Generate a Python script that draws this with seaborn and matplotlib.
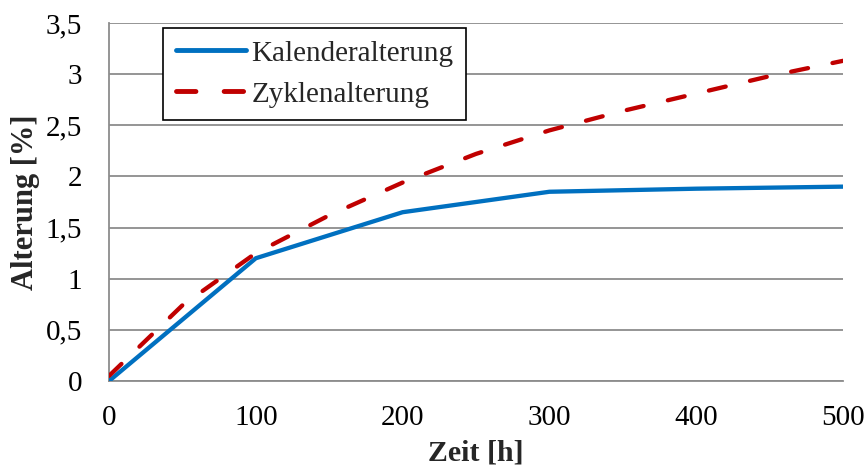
import matplotlib
matplotlib.use("Agg")
import matplotlib.pyplot as plt
import seaborn as sns
import pandas as pd

zeit = [0, 100, 200, 300, 400, 500]
kalender = [0.0, 1.20, 1.65, 1.85, 1.88, 1.90]

zeit_zyklen = [0, 50, 100, 150, 200, 250, 300, 350, 400, 450, 500]
zyklen = [0.05, 0.74, 1.25, 1.62, 1.94, 2.22, 2.45, 2.64, 2.81, 2.98, 3.13]

x_ticks = [0, 100, 200, 300, 400, 500]
y_ticks = [0, 0.5, 1, 1.5, 2, 2.5, 3, 3.5]
y_tick_labels = ["0", "0,5", "1", "1,5", "2", "2,5", "3", "3,5"]

sns.set_theme(style="white")
plt.rcParams["font.family"] = ["Liberation Serif", "DejaVu Serif"]

df = pd.concat([
    pd.DataFrame({"Zeit": zeit, "Alterung": kalender, "Serie": "Kalenderalterung"}),
    pd.DataFrame({"Zeit": zeit_zyklen, "Alterung": zyklen, "Serie": "Zyklenalterung"}),
], ignore_index=True)

fig = plt.figure(figsize=(8.66, 4.71), dpi=100)
ax = fig.add_axes([0.1259, 0.1911, 0.9734 - 0.1259, 0.9512 - 0.1911])

sns.lineplot(data=df, x="Zeit", y="Alterung", hue="Serie", style="Serie",
             palette={"Kalenderalterung": "#0070C0", "Zyklenalterung": "#C00000"},
             dashes={"Kalenderalterung": "", "Zyklenalterung": (4.0, 5.8)},
             linewidth=3.1, ax=ax, zorder=3)
for ln in ax.get_lines():
    ln.set_dash_capstyle("round")
    ln.set_solid_capstyle("round")
    ln.set_solid_joinstyle("round")

ax.set_xlim(0, 500)
ax.set_ylim(0, 3.5)
ax.set_xticks(x_ticks)
ax.set_yticks(y_ticks)
ax.set_yticklabels(y_tick_labels)
ax.grid(axis="y", color="#8c8c8c", linewidth=1.3)
ax.grid(axis="x", visible=False)
ax.set_axisbelow(True)
for s in ["top", "right"]:
    ax.spines[s].set_visible(False)
for s in ["left", "bottom"]:
    ax.spines[s].set_color("#8c8c8c")
    ax.spines[s].set_linewidth(1.3)
ax.tick_params(axis="both", which="major", length=6.5, width=1.3, color="#8c8c8c",
               labelsize=21, labelcolor="black", direction="out")
ax.tick_params(axis="x", pad=11)
ax.tick_params(axis="y", pad=13)
ax.set_xlabel("Zeit [h]", fontsize=21.5, fontweight="bold", labelpad=6)
ax.set_ylabel("Alterung [%]", fontsize=22, fontweight="bold", labelpad=4)

leg = ax.legend(loc="upper left", bbox_to_anchor=(0.074, 0.986), fontsize=21,
                frameon=True, fancybox=False, edgecolor="black", framealpha=1,
                handlelength=2.4, handletextpad=0.2, borderpad=0.42,
                labelspacing=0.5, borderaxespad=0, title=None)
leg.get_frame().set_linewidth(1.2)
for h in leg.get_lines():
    h.set_linewidth(3.5)

fig.savefig("out.png", dpi=100)
